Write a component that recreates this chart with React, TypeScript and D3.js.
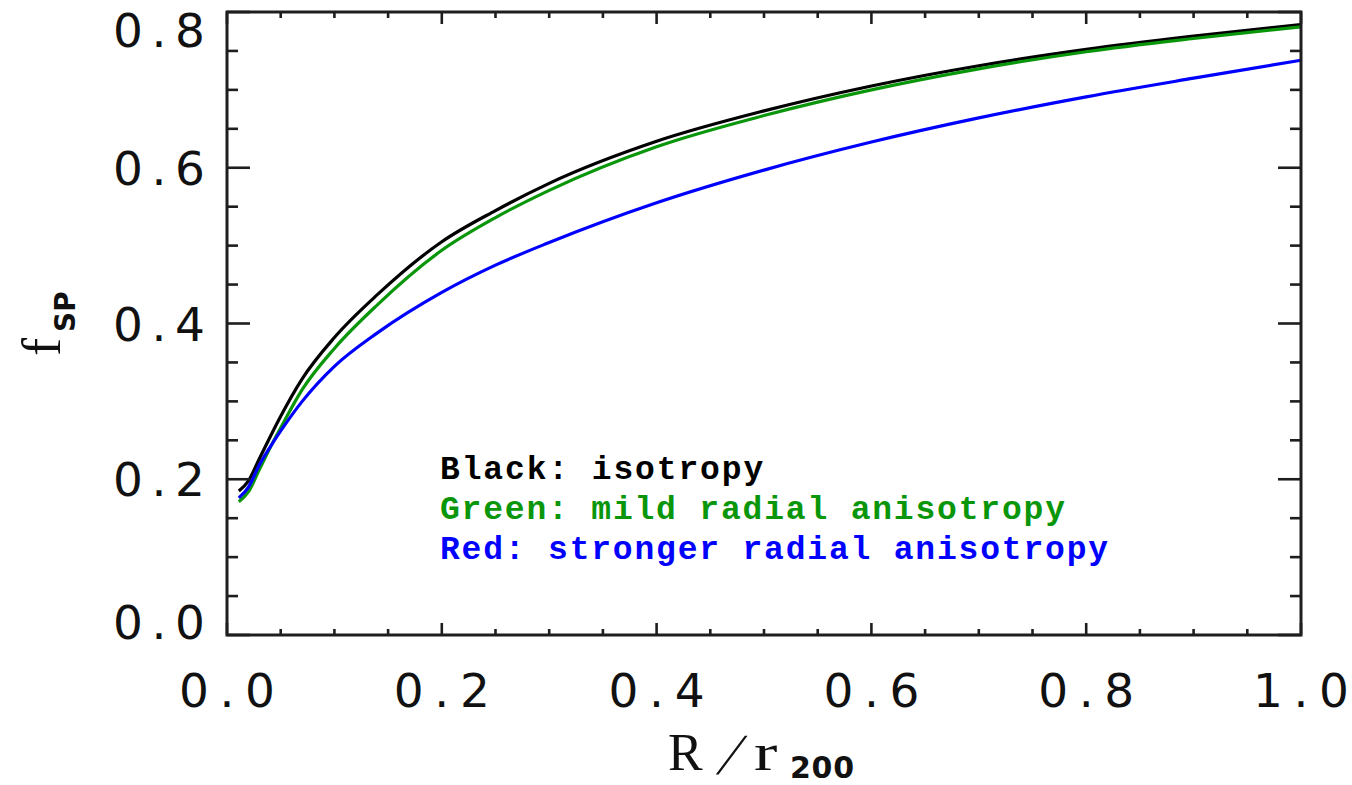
import React from 'react';
import * as d3 from 'd3';

// R/r200 sample points
const radius = [0.011, 0.02, 0.03, 0.04, 0.05, 0.07, 0.1, 0.14, 0.2, 0.25, 0.3, 0.4, 0.5, 0.6, 0.7, 0.8, 0.9, 1.0];

// f_SP for the three orbit models
const isotropy = [0.185, 0.198, 0.226, 0.254, 0.281, 0.329, 0.382, 0.437, 0.505, 0.545, 0.58, 0.634, 0.673, 0.705, 0.731, 0.752, 0.769, 0.784];
const mildRadial = [0.171, 0.184, 0.212, 0.24, 0.266, 0.315, 0.368, 0.424, 0.494, 0.536, 0.571, 0.627, 0.667, 0.7, 0.727, 0.749, 0.766, 0.781];
const strongRadial = [0.176, 0.19, 0.218, 0.241, 0.262, 0.3, 0.345, 0.388, 0.44, 0.475, 0.504, 0.555, 0.597, 0.633, 0.664, 0.691, 0.715, 0.738];

const seriesColors = ['#000000', '#0a960a', '#0000ff'];
const legendLines = ['Black: isotropy', 'Green: mild radial anisotropy', 'Red: stronger radial anisotropy'];

const xMajor = [0, 0.2, 0.4, 0.6, 0.8, 1.0];
const yMajor = [0, 0.2, 0.4, 0.6, 0.8];

const W = 1352;
const H = 785;
const left = 227, right = 1301, top = 12, bottom = 635;

const App = () => {
    const x = d3.scaleLinear().domain([0, 1]).range([left, right]);
    const y = d3.scaleLinear().domain([0, 0.8]).range([bottom, top]);

    const line = d3.line<number>()
        .x((d, i) => x(radius[i]))
        .y(d => y(d))
        .curve(d3.curveMonotoneX);

    const xMinor = d3.range(0, 1.0001, 0.05).filter(v => Math.abs(v * 5 - Math.round(v * 5)) > 1e-6);
    const yMinor = d3.range(0, 0.8001, 0.05).filter(v => Math.abs(v * 5 - Math.round(v * 5)) > 1e-6);

    const axisColor = '#1e1e1e';
    const tickFont = 'DejaVu Sans, sans-serif';
    const serif = 'Liberation Serif, serif';

    return (
        <svg width={W} height={H} style={{position: 'absolute', left: 0, top: 0}}>
            <rect width={W} height={H} fill="#fff"/>

            {/* series */}
            <g fill="none" strokeWidth={3.2} strokeLinejoin="round">
                {[isotropy, mildRadial, strongRadial].map((s, i) => (
                    <path key={i} d={line(s) || ''} stroke={seriesColors[i]}/>
                ))}
            </g>

            {/* ticks on all sides */}
            <g stroke={axisColor} strokeWidth={2.6}>
                {xMajor.map(v => (
                    <g key={'xM' + v}>
                        <line x1={x(v)} x2={x(v)} y1={bottom} y2={bottom - 12}/>
                        <line x1={x(v)} x2={x(v)} y1={top} y2={top + 12}/>
                    </g>
                ))}
                {xMinor.map(v => (
                    <g key={'xm' + v}>
                        <line x1={x(v)} x2={x(v)} y1={bottom} y2={bottom - 6}/>
                        <line x1={x(v)} x2={x(v)} y1={top} y2={top + 6}/>
                    </g>
                ))}
                {yMajor.map(v => (
                    <g key={'yM' + v}>
                        <line x1={left} x2={left + 23} y1={y(v)} y2={y(v)}/>
                        <line x1={right} x2={right - 23} y1={y(v)} y2={y(v)}/>
                    </g>
                ))}
                {yMinor.map(v => (
                    <g key={'ym' + v}>
                        <line x1={left} x2={left + 11} y1={y(v)} y2={y(v)}/>
                        <line x1={right} x2={right - 11} y1={y(v)} y2={y(v)}/>
                    </g>
                ))}
            </g>
            <rect x={left} y={top} width={right - left} height={bottom - top}
                  fill="none" stroke={axisColor} strokeWidth={3}/>

            {/* tick labels */}
            <g fontFamily={tickFont} fontSize={47} fill="#111">
                {xMajor.map(v => (
                    <text key={'xl' + v} x={x(v) - 48} y={707} textLength={96} lengthAdjust="spacing">
                        {v.toFixed(1)}
                    </text>
                ))}
                {yMajor.map(v => (
                    <text key={'yl' + v} x={113} y={Math.min(622, Math.max(30, y(v))) + 17}
                          textLength={92} lengthAdjust="spacing">
                        {v.toFixed(1)}
                    </text>
                ))}
            </g>

            {/* axis titles */}
            <g transform="translate(60,356) rotate(-90)">
                <text fontFamily={serif} fontSize={54} fill="#111">
                    f
                    <tspan fontFamily={tickFont} fontWeight="bold" fontSize={28} dx={6} dy={15}>SP</tspan>
                </text>
            </g>
            <g fill="#111">
                <text x={668} y={770} fontFamily={serif} fontSize={52}>R</text>
                <text transform="translate(716,774) skewX(-22)" fontFamily={serif} fontSize={58}>/</text>
                <text transform="translate(754,770) scale(1.35,1)" fontFamily={serif} fontSize={52}>r</text>
                <text x={790} y={778} fontFamily={tickFont} fontWeight="bold" fontSize={30}
                      textLength={64} lengthAdjust="spacing">200</text>
            </g>

            {/* legend */}
            <g fontFamily="Liberation Mono, monospace" fontWeight="bold" fontSize={33}>
                {legendLines.map((t, i) => (
                    <text key={t} x={440} y={479 + i * 40} fill={seriesColors[i]}
                          textLength={t.length * 21.55} lengthAdjust="spacing">
                        {t}
                    </text>
                ))}
            </g>
        </svg>
    );
};

export default App;
